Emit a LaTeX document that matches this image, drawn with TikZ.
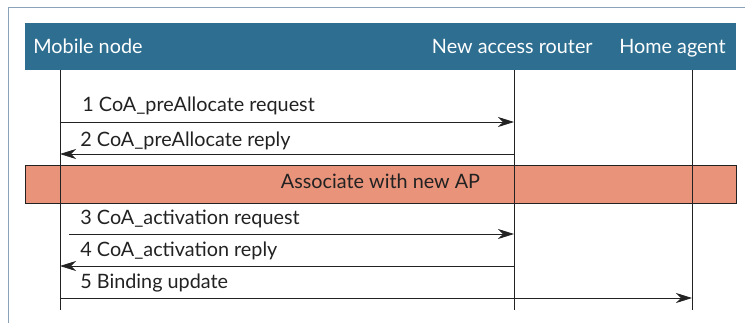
\documentclass[tikz,border=0pt]{standalone}
\usepackage{fontspec}
\setmainfont{Lato}
\usetikzlibrary{arrows.meta}
\definecolor{hdrblue}{HTML}{2E6F91}
\definecolor{bandred}{HTML}{E8937A}
\definecolor{framegray}{HTML}{8AA3BA}
\definecolor{ink}{HTML}{222222}

\begin{document}
\begin{tikzpicture}[x=1pt, y=-1pt, line width=0.8pt, ink,
  font=\fontsize{19.8}{22}\selectfont,
  >={Stealth[length=16pt, width=10pt, inset=5pt]},
  lbl/.style={anchor=base west, inner sep=0pt}]
\useasboundingbox (0,0) rectangle (745,322);
\draw[framegray, line width=1pt] (8,340) -- (8,7) -- (760,7);
\fill[hdrblue] (25,23) rectangle (736,70);
\node (mn) at (33,53) [lbl, white] {Mobile node};
\node (nar) at (593,53) [anchor=base east, inner sep=0pt, white] {New access router};
\node (ha) at (726,53) [anchor=base east, inner sep=0pt, white] {Home agent};
\node (band) at (380.5,184) [draw, fill=bandred, minimum width=711pt, minimum height=38pt, inner sep=0pt] {};
\node (assoc) at (380.5,188) [anchor=base, inner sep=0pt] {Associate with new AP};
\coordinate (mntop) at (60,70);  \coordinate (mnbot) at (60,310);
\coordinate (nartop) at (514,70); \coordinate (narbot) at (514,310);
\coordinate (hatop) at (692,70);  \coordinate (habot) at (692,310);
\draw (mntop) -- (mnbot);
\draw (nartop) -- (narbot);
\draw (hatop) -- (habot);
\coordinate (m1) at (60,122);  \coordinate (r1) at (514,122);
\coordinate (m2) at (60,154);  \coordinate (r2) at (514,154);
\coordinate (m3) at (69,234);  \coordinate (r3) at (514,234);
\coordinate (m4) at (60,266);  \coordinate (r4) at (514,266);
\coordinate (m5) at (60,298);  \coordinate (h5) at (692,298);
\draw[->] (m1) -- (r1);
\draw[->] (r2) -- (m2);
\draw[->] (m3) -- (r3);
\draw[->] (r4) -- (m4);
\draw[->] (m5) -- (h5);
\node (t1) at (82,111) [lbl] {1 CoA\_preAllocate request};
\node (t2) at (80,146) [lbl] {2 CoA\_preAllocate reply};
\node (t3) at (80,224) [lbl] {3 CoA\_activation request};
\node (t4) at (80,256) [lbl] {4 CoA\_activation reply};
\node (t5) at (80,288) [lbl] {5 Binding update};
\end{tikzpicture}
\end{document}
